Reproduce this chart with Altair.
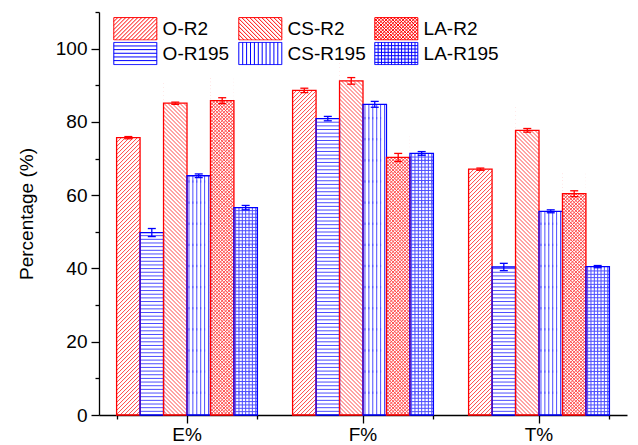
import altair as alt
import pandas as pd

# ---------------- data ----------------
categories = ["E%", "F%", "T%"]
bar_order = ["O-R2", "O-R195", "CS-R2", "CS-R195", "LA-R2", "LA-R195"]
legend_order = ["O-R2", "CS-R2", "LA-R2", "O-R195", "CS-R195", "LA-R195"]

o_r2 = [75.7, 88.6, 67.1]
o_r195 = [49.8, 80.9, 40.4]
cs_r2 = [85.1, 91.2, 77.7]
cs_r195 = [65.3, 84.8, 55.6]
la_r2 = [85.8, 70.3, 60.4]
la_r195 = [56.6, 71.4, 40.5]

o_r2_err = [0.3, 0.6, 0.3]
o_r195_err = [1.1, 0.6, 1.0]
cs_r2_err = [0.3, 0.9, 0.5]
cs_r195_err = [0.5, 0.8, 0.4]
la_r2_err = [0.8, 1.1, 0.8]
la_r195_err = [0.6, 0.5, 0.3]

values = {"O-R2": o_r2, "O-R195": o_r195, "CS-R2": cs_r2,
          "CS-R195": cs_r195, "LA-R2": la_r2, "LA-R195": la_r195}
errors = {"O-R2": o_r2_err, "O-R195": o_r195_err, "CS-R2": cs_r2_err,
          "CS-R195": cs_r195_err, "LA-R2": la_r2_err, "LA-R195": la_r195_err}

rows = []
for s in bar_order:
    for i, c in enumerate(categories):
        rows.append({"cat": c, "series": s, "value": values[s][i], "err": errors[s][i]})
df = pd.DataFrame(rows)
df["lo"] = df["value"] - df["err"]
df["hi"] = df["value"] + df["err"]

# ---------------- geometry / style ----------------
W, H, YMAX = 528, 403, 110
PI, PO = 0.2, 0.1
STEP = W / (len(categories) - PI + 2 * PO)
BW = STEP * (1 - PI) / len(bar_order)
PPU = H / YMAX
HALF = BW / 2.0
RED, BLUE = "#ff0000", "#0000ff"
LRED, LBLUE = "#ff4a4a", "#4d4dff"
FONT = "Liberation Sans"
FS = 19
TITLE = "Percentage (%)"

xscale = alt.Scale(domain=categories, paddingInner=PI, paddingOuter=PO)
oscale = alt.Scale(domain=bar_order, paddingInner=0, paddingOuter=0)
yscale = alt.Scale(domain=[0, YMAX], nice=False, zero=True)
yaxis = alt.Axis(values=list(range(0, YMAX + 1, 10)),
                 labelExpr="datum.value % 20 == 0 ? datum.label : ''",
                 tickSize={"condition": {"test": "datum.value % 20 == 0", "value": 8}, "value": 4},
                 grid=False, labelFontSize=FS, titleFontSize=FS, labelFont=FONT, titleFont=FONT,
                 labelColor="black", titleColor="black", titleFontWeight="normal",
                 domainColor="black", tickColor="black", domainWidth=1.3, tickWidth=1.3,
                 labelPadding=4, titlePadding=19)

def X(axis=None):
    return alt.X("cat:N", scale=xscale, axis=axis, title=None)

XO = alt.XOffset("series:N", scale=oscale)

def Y(field):
    return alt.Y(f"{field}:Q", scale=yscale, axis=yaxis, title=TITLE)

col_cond = alt.condition("indexof(datum.series, 'R195') >= 0", alt.value(BLUE), alt.value(RED))

base = alt.Chart(df)

# ---------------- hatch paths (unit = half bar width) ----------------
def vert_path(n):
    parts = []
    for k in range(n):
        x = -1 + (k + 0.5) * 2.0 / n
        parts.append(f"M{x:.4f},-1L{x:.4f},1")
    return "".join(parts)

hatch_specs = [
    # series, path, step px, start px, extra px, color
    ("O-R2", "M-1,1L1,-1", 4.0, -HALF, HALF, LRED),
    ("CS-R2", "M-1,-1L1,1", 4.0, -HALF, HALF, LRED),
    ("LA-R2", "M-1,1L1,-1M-1,-1L1,1", 3.4, -HALF, HALF, LRED),
    ("O-R195", "M-1,0L1,0", 3.66, 3.66, -1.0, LBLUE),
    ("CS-R195", vert_path(6), 0.9 * BW, HALF, HALF, LBLUE),
    ("LA-R195", vert_path(7), 0.9 * BW, HALF, HALF, LBLUE),
    ("LA-R195", "M-1,0L1,0", 3.35, 3.35, -1.0, LBLUE),
]

layers = []
for s, path, step, start, extra, color in hatch_specs:
    layers.append(
        base.transform_filter(alt.datum.series == s)
        .transform_calculate(lvl=f"sequence({start / PPU:.4f}, datum.value + {extra / PPU:.4f}, {step / PPU:.4f})")
        .transform_flatten(["lvl"])
        .mark_point(shape=path, size=BW * BW, filled=False, stroke=color,
                    strokeWidth=1, opacity=1, clip=True)
        .encode(x=X(), xOffset=XO, y=Y("lvl"))
    )

# white cover above each bar (hides hatch overflow)
minor_axis = alt.Axis(tickBand="extent", labels=False, tickSize=4, domain=False, grid=False,
                      tickColor="black", tickWidth=1.3, orient="bottom", title=None)
layers.append(
    base.mark_bar(fill="white", strokeWidth=0, opacity=1)
    .encode(x=X(minor_axis), xOffset=XO, y=Y("value"), y2=alt.datum(YMAX))
)

# outlines
main_axis = alt.Axis(labelFontSize=FS, labelFont=FONT, labelColor="black", labelAngle=0,
                     tickSize=8, tickColor="black", tickWidth=1.3, domainColor="black",
                     domainWidth=1.3, labelPadding=2, grid=False, orient="bottom", title=None)
layers.append(
    base.mark_bar(fillOpacity=0, strokeWidth=1.3)
    .encode(x=X(main_axis), xOffset=XO, y=Y("value"), stroke=col_cond)
)

# error bars
layers.append(
    base.mark_rule(strokeWidth=1.3)
    .encode(x=X(), xOffset=XO, y=Y("lo"), y2="hi:Q", color=col_cond)
)
for f in ["lo", "hi"]:
    layers.append(
        base.mark_tick(orient="horizontal", size=8, thickness=1.3, opacity=1)
        .encode(x=X(), xOffset=XO, y=Y(f), color=col_cond)
    )

# ---------------- legend (swatches as custom symbol paths) ----------------
SW, SH = 43.0, 22.4
U = SH / 2.0   # symbol unit
ROWH = SH + 1.0

def swatch(kind, step):
    hw, hh = SW / 2, SH / 2
    segs = []
    if kind in ("/", "X"):
        c = -(hw + hh) + step
        while c < hw + hh:
            x0, x1 = max(-hw, c - hh), min(hw, c + hh)
            if x1 > x0:
                segs.append(((x0, c - x0), (x1, c - x1)))
            c += step
    if kind in ("\\", "X"):
        c = -(hw + hh) + step
        while c < hw + hh:
            x0, x1 = max(-hw, -hh - c), min(hw, hh - c)
            if x1 > x0:
                segs.append(((x0, x0 + c), (x1, x1 + c)))
            c += step
    if kind in ("H", "G"):
        y = -hh + step
        while y < hh - 0.5:
            segs.append(((-hw, y), (hw, y)))
            y += step
    if kind in ("V", "G"):
        x = -hw + step
        while x < hw - 0.5:
            segs.append(((x, -hh), (x, hh)))
            x += step

    def px(x):  # left edge of swatch at left edge of symbol column
        return (x + hw) / U - 1

    def py(y):
        return y / U

    p = f"M{px(-hw):.4f},{py(-hh):.4f}H{px(hw):.4f}V{py(hh):.4f}H{px(-hw):.4f}Z"
    for (a, b) in segs:
        p += f"M{px(a[0]):.4f},{py(a[1]):.4f}L{px(b[0]):.4f},{py(b[1]):.4f}"
    return p

legend_paths = [swatch("/", 4.0), swatch("\\", 4.0), swatch("X", 3.4),
                swatch("H", 3.66), swatch("V", 3.9), swatch("G", 3.35)]
legend_colors = [RED, RED, RED, BLUE, BLUE, BLUE]

leg = alt.Legend(title=None, orient="none", legendX=14, legendY=4.8, columns=3,
                 direction="horizontal", clipHeight=ROWH, gridAlign="each",
                 symbolSize=(2 * U) ** 2, symbolStrokeWidth=1, labelFontSize=FS, labelFont=FONT,
                 labelColor="black", labelOffset=SW - 2 * U + 5, columnPadding=8, rowPadding=1,
                 padding=0)
layers.append(
    base.transform_filter("false")
    .mark_point(filled=False, opacity=1, strokeWidth=1)
    .encode(x=X(), xOffset=XO, y=Y("value"),
            color=alt.Color("series:N", scale=alt.Scale(domain=legend_order, range=legend_colors), legend=leg),
            shape=alt.Shape("series:N", scale=alt.Scale(domain=legend_order, range=legend_paths), legend=leg))
)

chart = (
    alt.layer(*layers)
    .resolve_axis(x="independent")
    .properties(width=W, height=H, autosize="none",
                padding={"left": 91, "top": 4, "right": 3, "bottom": 29})
    .configure_view(stroke=None)
)

chart.save("out.html", embed_options={"renderer": "svg", "actions": False})
